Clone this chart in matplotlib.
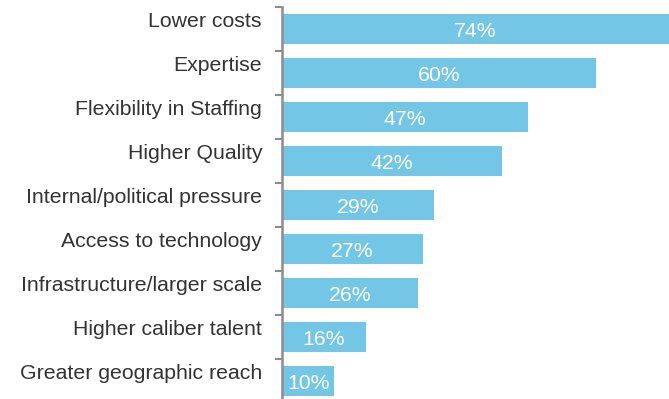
import matplotlib.pyplot as plt
from matplotlib.ticker import FixedLocator

plt.rcParams['font.family'] = ['Liberation Sans', 'DejaVu Sans']

# data
categories = [
    "Lower costs",
    "Expertise",
    "Flexibility in Staffing",
    "Higher Quality",
    "Internal/political pressure",
    "Access to technology",
    "Infrastructure/larger scale",
    "Higher caliber talent",
    "Greater geographic reach",
]
values = [74, 60, 47, 42, 29, 27, 26, 16, 10]

bar_color = "#73C6E6"
text_color = "#333333"
axis_color = "#8C8C8C"


def draw_chart():
    fig = plt.figure(figsize=(6.69, 3.99), dpi=100)
    # axes placed so that the spine sits at x=282px and the top at y=7px
    ax = fig.add_axes([282 / 669, 1 - 403 / 399, 1 - 282 / 669, 396 / 399])

    pos = list(range(len(categories)))
    ax.barh(pos, values, height=0.66, color=bar_color)

    ax.set_xlim(0, 74)
    ax.set_ylim(len(categories) - 0.5, -0.5)

    # value labels centred inside the bars
    for y, v in zip(pos, values):
        ax.text(v / 2, y + 0.06, f"{v}%", color="white", fontsize=15.3,
                ha="center", va="center")

    # category labels sit a little above the bar centre
    for y, name in zip(pos, categories):
        ax.text(-20 / 387 * 74, y - 0.18, name, color=text_color, fontsize=15.3,
                ha="right", va="center")

    for side in ["top", "right", "bottom"]:
        ax.spines[side].set_visible(False)
    ax.spines["left"].set_color(axis_color)
    ax.spines["left"].set_linewidth(1.8)

    ax.set_xticks([])
    ax.yaxis.set_major_locator(FixedLocator([p - 0.5 for p in pos] + [len(pos) - 0.5]))
    ax.set_yticklabels([])
    ax.tick_params(axis="y", direction="out", length=5, width=1.5, color=axis_color)

    fig.savefig("out.png", dpi=100)


def main():
    draw_chart()


if __name__ == "__main__":
    main()
